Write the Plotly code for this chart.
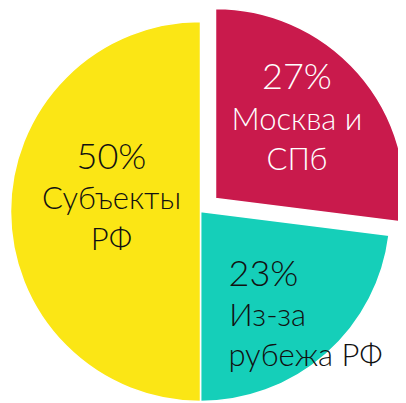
import plotly.graph_objects as go

labels = ["Москва и СПб", "Из-за рубежа РФ", "Субъекты РФ"]
values = [27, 23, 50]
colors = ["#C91A4C", "#15CFB9", "#FBE615"]
text_colors = ["#FFFFFF", "#111111", "#111111"]

NB = "\u00a0"
BIG = '<span style="font-size:36px">{}%</span>'


def blank(px):
    return '<span style="font-size:%dpx">%s</span>' % (px, NB)


slice_text = [
    blank(6) + "<br>" + BIG.format(values[0]) + "<br>Москва и<br>СПб<br>" + blank(1),
    blank(24) + "<br>" + NB * 7 + BIG.format(values[1]) + NB * 10
    + "<br>" + NB * 7 + "Из-за" + NB * 9
    + "<br>" + NB * 7 + "рубежа РФ",
    BIG.format(values[2]) + NB + "<br>Субъекты" + NB + "<br>РФ" + NB + "<br>" + blank(1),
]

W, H = 406, 403
R = 190
OFF = 8  # page body margin
cA = (200.5 - OFF, 211.5 - OFF)   # base pie centre
cB = (215.5 - OFF, 198.5 - OFF)   # pulled-out slice centre


def dom(c):
    x0, x1 = (c[0] - R) / W, (c[0] + R) / W
    y0, y1 = (H - (c[1] + R)) / H, (H - (c[1] - R)) / H
    return dict(x=[max(0, x0), min(1, x1)], y=[max(0, y0), min(1, y1)])


FS = 31
FAMILY = "Lato"
WEIGHT = 300
CLEAR = "rgba(0,0,0,0)"

fig = go.Figure()
fig.add_trace(go.Pie(
    labels=labels, values=values, sort=False, direction="clockwise", rotation=0,
    marker=dict(colors=[CLEAR, colors[1], colors[2]],
                line=dict(color="white", width=[0, 1.5, 1.5])),
    text=["", slice_text[1], slice_text[2]], texttemplate="%{text}",
    textposition="inside", insidetextorientation="horizontal",
    insidetextfont=dict(family=FAMILY, size=FS, weight=WEIGHT,
                        color=[CLEAR, text_colors[1], text_colors[2]]),
    domain=dom(cA), hoverinfo="skip", showlegend=False,
))
fig.add_trace(go.Pie(
    labels=labels, values=values, sort=False, direction="clockwise", rotation=0,
    marker=dict(colors=[colors[0], CLEAR, CLEAR],
                line=dict(color="white", width=[1.5, 0, 0])),
    text=[slice_text[0], "", ""], texttemplate="%{text}",
    textposition="inside", insidetextorientation="horizontal",
    insidetextfont=dict(family=FAMILY, size=FS, weight=WEIGHT,
                        color=[text_colors[0], CLEAR, CLEAR]),
    domain=dom(cB), hoverinfo="skip", showlegend=False,
))

fig.update_layout(
    width=W, height=H, margin=dict(l=0, r=0, t=0, b=0),
    paper_bgcolor="white", plot_bgcolor="white", showlegend=False,
    uniformtext=dict(minsize=FS, mode="show"),
)
fig.write_html("out.html")
